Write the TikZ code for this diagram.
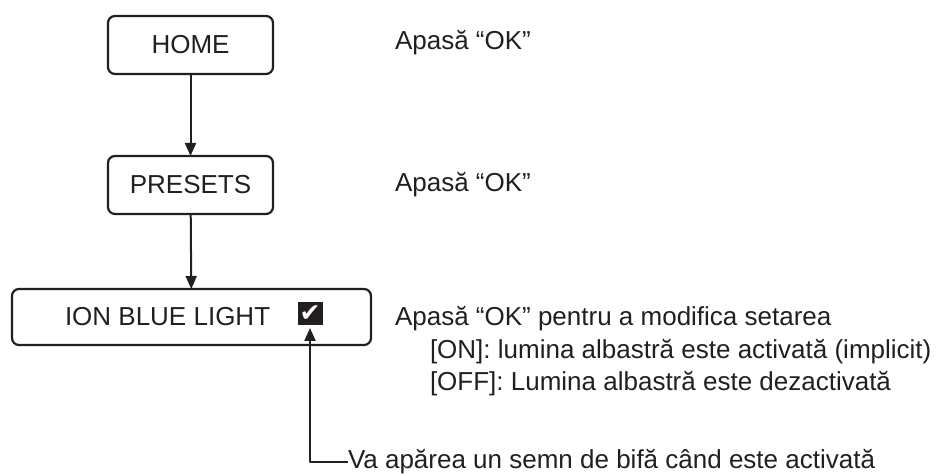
\documentclass[tikz,border=0pt]{standalone}
\usepackage{fontspec}
\setmainfont{Liberation Sans}
\newfontfamily\ticksymbol{DejaVu Sans}
\usetikzlibrary{arrows.meta}
\definecolor{MenuInk}{RGB}{35,31,32}
\tikzset{
    menu/diagram/.style={
        font=\fontsize{13}{15.6}\selectfont,
        draw=MenuInk,
        text=MenuInk,
        line width=1pt,
        line join=round,
        every node/.style={inner sep=0pt, outer sep=0pt}
    },
    menu/box/.style={
        draw=MenuInk, line width=1.1pt, rounded corners=3.5pt,
        minimum width=82.5pt, minimum height=29pt
    },
    menu/widebox/.style={menu/box, minimum width=179.5pt, minimum height=28pt},
    menu/flow/.style={
        draw=MenuInk, line width=1pt,
        -{Triangle[length=6.5pt, width=5.5pt]}
    },
    menu/leader/.style={
        draw=MenuInk, line width=1pt, shorten >=1.5pt,
        -{Triangle[length=6.5pt, width=5.5pt]}
    },
    menu/hint/.style={anchor=base west},
    menu/tick/.style={
        fill=MenuInk, text=white, minimum width=12.5pt, minimum height=11.5pt,
        font=\ticksymbol\fontsize{12.5}{12.5}\selectfont
    }
}

\begin{document}
\begin{tikzpicture}[menu/diagram, x=0.5pt, y=-0.5pt]
    \useasboundingbox (0,0) rectangle (949,475);

    % menu chain
    \node[menu/box] (home) at (190.5,45) {HOME};
    \node[menu/box] (presets) at (190.5,185) {PRESETS};
    \node[menu/widebox] (ion) at (191.5,317) {};
    \node[anchor=west] (iontext) at (65,317) {ION BLUE LIGHT};
    \node[menu/tick] (tick) at (310,313.5) {\char"2714};

    \draw[menu/flow] (home) -- (presets);
    \draw[menu/flow] (presets) -- (ion);

    % what to press
    \node[menu/hint] (press1) at (395,50) {Apasă “OK”};
    \node[menu/hint] (press2) at (395,192) {Apasă “OK”};
    \node[menu/hint] (press3) at (395,326) {Apasă “OK” pentru a modifica setarea};
    \node[menu/hint] (onopt) at (430,358.5) {[ON]: lumina albastră este activată (implicit)};
    \node[menu/hint] (offopt) at (430,391) {[OFF]: Lumina albastră este dezactivată};

    % check mark note
    \node[anchor=west] (note) at (348,462) {Va apărea un semn de bifă când este activată};
    \draw[menu/leader] (note.west) -| (tick.south);
\end{tikzpicture}
\end{document}
